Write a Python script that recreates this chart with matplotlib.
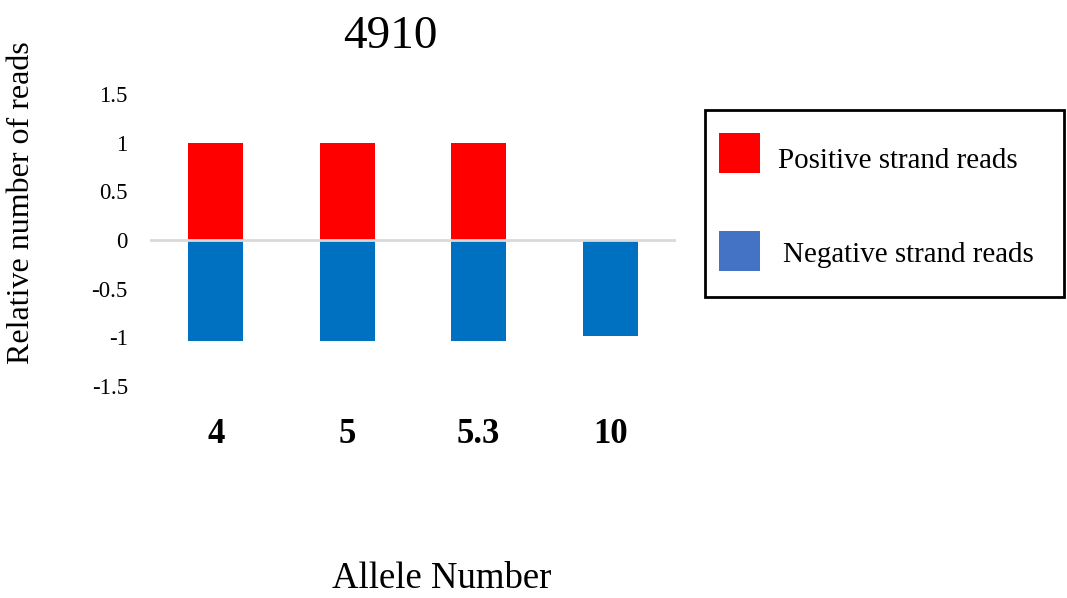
import numpy as np
import matplotlib
matplotlib.use("Agg")
import matplotlib.pyplot as plt
from matplotlib.patches import Rectangle

plt.rcParams['font.family'] = ['Liberation Serif', 'DejaVu Serif']

# data
alleles = ['4', '5', '5.3', '10']
positive = [1.0, 1.0, 1.0, 0.0]
negative = [-1.04, -1.04, -1.04, -0.99]
legend_labels = ['Positive strand reads', 'Negative strand reads']

pos_color = '#FF0000'
neg_color = '#0070C0'
neg_legend_color = '#4472C4'

W, H = 1067, 598
fig = plt.figure(figsize=(W / 100, H / 100), dpi=100)
ax = fig.add_axes([150 / W, 1 - 386 / H, 526 / W, 292 / H])

x = np.arange(len(alleles))
w = 0.42
ax.bar(x, positive, width=w, color=pos_color, zorder=2)
ax.bar(x, negative, width=w, color=neg_color, zorder=2)
ax.axhline(0, color='#D9D9D9', lw=2, zorder=3)

ax.set_xlim(-0.5, len(alleles) - 0.5)
ax.set_ylim(-1.5, 1.5)
ax.set_yticks([-1.5, -1, -0.5, 0, 0.5, 1, 1.5])
ax.set_yticklabels(['-1.5', '-1', '-0.5', '0', '0.5', '1', '1.5'], fontsize=16.5)
ax.set_xticks(x)
ax.set_xticklabels(alleles, fontsize=25, fontweight='bold')
ax.tick_params(axis='y', length=0, pad=16)
ax.tick_params(axis='x', length=0, pad=23)
for s in ax.spines.values():
    s.set_visible(False)

ax.set_title('4910', fontsize=34, x=(390 - 150) / 526, pad=33)
ax.set_xlabel('Allele Number', fontsize=26.5)
ax.xaxis.set_label_coords((442 - 150) / 526, (386 - 562) / 292)
ax.set_ylabel('Relative number of reads', fontsize=23)
ax.yaxis.set_label_coords((36 - 150) / 526, (386 - 203) / 292)

# legend box drawn by hand (Excel-style layout)
def fx(px):
    return px / W

def fy(py):
    return 1 - py / H

fig.patches.append(Rectangle((fx(705), fy(297)), fx(1064) - fx(705), fy(110) - fy(297),
                             transform=fig.transFigure, facecolor='white',
                             edgecolor='black', lw=2, zorder=5))
swatches = [(pos_color, 133, 778, 168), (neg_legend_color, 231, 783, 262)]
for (col, top, tx, base), lab in zip(swatches, legend_labels):
    fig.patches.append(Rectangle((fx(719), fy(top + 40)), fx(760) - fx(719), fy(top) - fy(top + 40),
                                 transform=fig.transFigure, facecolor=col,
                                 edgecolor='none', zorder=6))
    fig.text(fx(tx), fy(base), lab, fontsize=20.9, va='baseline', ha='left', zorder=7)

fig.savefig('out.png', dpi=100)
